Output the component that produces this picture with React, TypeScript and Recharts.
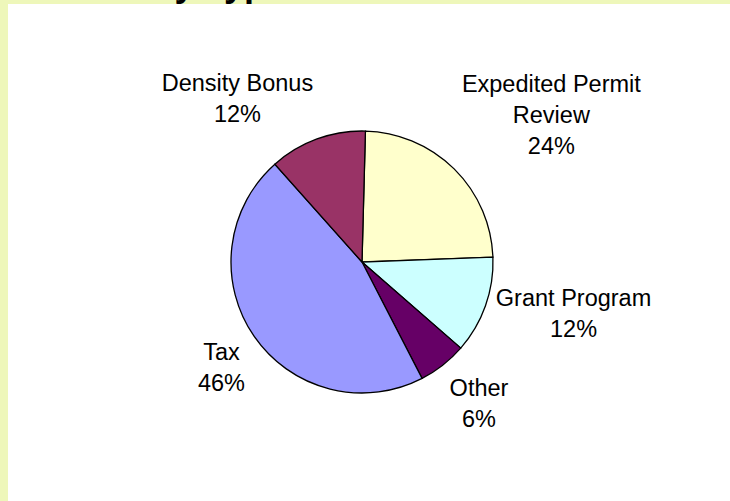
import React from "react";
import { PieChart, Pie, Cell } from "recharts";

const categories = ["Expedited Permit Review", "Grant Program", "Other", "Tax", "Density Bonus"];
const shares = [24, 12, 6, 46, 12];
const sliceColors = ["#FFFFCC", "#CCFFFF", "#660066", "#9999FF", "#993366"];
const titleText = "Incentive Policy Type";

const data = categories.map((name, i) => ({ name, value: shares[i] }));

const FONT = "'Liberation Sans', Arial, sans-serif";
const FONT_SIZE = 23.5;
const LINE_H = 31;
const WRAP_W = 190;

let ctx: CanvasRenderingContext2D | null = null;
function textWidth(s: string) {
  if (!ctx) ctx = document.createElement("canvas").getContext("2d");
  if (!ctx) return s.length * FONT_SIZE * 0.55;
  ctx.font = `${FONT_SIZE}px ${FONT}`;
  return ctx.measureText(s).width;
}

function wrap(text: string) {
  const words = text.split(" ");
  const lines: string[] = [];
  let cur = "";
  words.forEach((w) => {
    const next = cur ? cur + " " + w : w;
    if (cur && textWidth(next) > WRAP_W) {
      lines.push(cur);
      cur = w;
    } else cur = next;
  });
  if (cur) lines.push(cur);
  return lines;
}

const clamp = (v: number) => Math.max(-1, Math.min(1, v));

// excel-like label placement: box pushed outward from the point beyond the rim
function renderLabel(props: any) {
  const { cx, cy, midAngle, outerRadius, name, percent } = props;
  const rad = (-midAngle * Math.PI) / 180;
  const dx = Math.cos(rad);
  const dy = Math.sin(rad);
  const ax = cx + (outerRadius + 11) * dx;
  const ay = cy + (outerRadius + 10) * dy;
  const lines = [...wrap(name), `${Math.round(percent * 100)}%`];
  const w = Math.max(...lines.map(textWidth));
  const h = lines.length * LINE_H;
  const fy = Math.sign(dy) * (2.93 * Math.abs(dy) - 0.82);
  const bx = ax + (w / 2) * clamp(3 * dx);
  const by = ay + (h / 2) * clamp(fy);
  const top = by - h / 2;
  return (
    <text
      x={bx}
      y={top}
      textAnchor="middle"
      fill="#000"
      style={{ fontFamily: FONT, fontSize: FONT_SIZE }}
    >
      {lines.map((l, i) => (
        <tspan key={i} x={bx} y={top + 23 + i * LINE_H}>
          {l}
        </tspan>
      ))}
    </text>
  );
}

export default function App() {
  return (
    <div style={{ position: "absolute", left: 0, top: 0, width: 730, height: 501, background: "#EEF7BA", overflow: "hidden" }}>
      <div style={{ position: "absolute", left: 8, top: 4, width: 722, height: 497, background: "#ffffff" }} />
      {/* title sits above the crop; only the descenders show */}
      <svg width={730} height={4} style={{ position: "absolute", left: 0, top: 0 }}>
        <text x={286} y={-4} textAnchor="end" fill="#000" style={{ fontFamily: FONT, fontSize: 36, fontWeight: 700 }}>
          {titleText}
        </text>
      </svg>
      <div style={{ position: "absolute", left: 0, top: 0 }}>
        <PieChart width={730} height={501} margin={{ top: 0, right: 0, bottom: 0, left: 0 }}>
          <Pie
            data={data}
            dataKey="value"
            nameKey="name"
            cx={362}
            cy={262}
            outerRadius={131}
            startAngle={88.5}
            endAngle={-271.5}
            stroke="#000"
            strokeWidth={1.3}
            labelLine={false}
            label={renderLabel}
            isAnimationActive={false}
          >
            {data.map((d, i) => (
              <Cell key={d.name} fill={sliceColors[i]} />
            ))}
          </Pie>
        </PieChart>
      </div>
    </div>
  );
}
